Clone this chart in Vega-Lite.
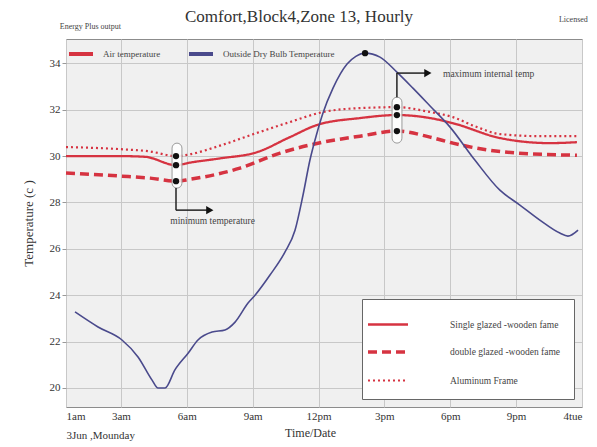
{
  "$schema": "https://vega.github.io/schema/vega-lite/v6.json",
  "width": 516,
  "height": 368,
  "autosize": {"type": "none"},
  "padding": {"left": 66, "top": 39, "right": 15, "bottom": 40},
  "background": "white",
  "config": {
    "view": {"fill": "#f0f0f0", "stroke": "#8c8c8c"},
    "font": "Liberation Serif"
  },
  "title": {
    "text": "Comfort,Block4,Zone 13, Hourly",
    "font": "Liberation Serif",
    "fontSize": 17,
    "fontWeight": "normal",
    "color": "#333333",
    "anchor": "middle",
    "dx": -25,
    "dy": 24,
    "offset": 14
  },
  "datasets": {
    "lines": [
      {"series": "Air temperature", "frame": "Single glazed -wooden fame", "h": 0.5, "t": 30.0},
      {"series": "Air temperature", "frame": "Single glazed -wooden fame", "h": 2.96, "t": 30.0},
      {"series": "Air temperature", "frame": "Single glazed -wooden fame", "h": 4.1, "t": 29.97},
      {"series": "Air temperature", "frame": "Single glazed -wooden fame", "h": 5.51, "t": 29.61},
      {"series": "Air temperature", "frame": "Single glazed -wooden fame", "h": 6.15, "t": 29.72},
      {"series": "Air temperature", "frame": "Single glazed -wooden fame", "h": 7.51, "t": 29.9},
      {"series": "Air temperature", "frame": "Single glazed -wooden fame", "h": 9.2, "t": 30.17},
      {"series": "Air temperature", "frame": "Single glazed -wooden fame", "h": 10.7, "t": 30.82},
      {"series": "Air temperature", "frame": "Single glazed -wooden fame", "h": 11.93, "t": 31.34},
      {"series": "Air temperature", "frame": "Single glazed -wooden fame", "h": 13.89, "t": 31.64},
      {"series": "Air temperature", "frame": "Single glazed -wooden fame", "h": 15.57, "t": 31.77},
      {"series": "Air temperature", "frame": "Single glazed -wooden fame", "h": 17.08, "t": 31.64},
      {"series": "Air temperature", "frame": "Single glazed -wooden fame", "h": 18.12, "t": 31.42},
      {"series": "Air temperature", "frame": "Single glazed -wooden fame", "h": 20.26, "t": 30.78},
      {"series": "Air temperature", "frame": "Single glazed -wooden fame", "h": 22.54, "t": 30.56},
      {"series": "Air temperature", "frame": "Single glazed -wooden fame", "h": 23.77, "t": 30.6},
      {"series": "Air temperature", "frame": "double glazed -wooden fame", "h": 0.5, "t": 29.27},
      {"series": "Air temperature", "frame": "double glazed -wooden fame", "h": 2.96, "t": 29.14},
      {"series": "Air temperature", "frame": "double glazed -wooden fame", "h": 4.33, "t": 29.05},
      {"series": "Air temperature", "frame": "double glazed -wooden fame", "h": 5.51, "t": 28.92},
      {"series": "Air temperature", "frame": "double glazed -wooden fame", "h": 6.15, "t": 29.0},
      {"series": "Air temperature", "frame": "double glazed -wooden fame", "h": 8.42, "t": 29.48},
      {"series": "Air temperature", "frame": "double glazed -wooden fame", "h": 10.25, "t": 30.13},
      {"series": "Air temperature", "frame": "double glazed -wooden fame", "h": 12.2, "t": 30.6},
      {"series": "Air temperature", "frame": "double glazed -wooden fame", "h": 13.89, "t": 30.86},
      {"series": "Air temperature", "frame": "double glazed -wooden fame", "h": 15.57, "t": 31.08},
      {"series": "Air temperature", "frame": "double glazed -wooden fame", "h": 17.08, "t": 30.82},
      {"series": "Air temperature", "frame": "double glazed -wooden fame", "h": 18.12, "t": 30.56},
      {"series": "Air temperature", "frame": "double glazed -wooden fame", "h": 19.22, "t": 30.34},
      {"series": "Air temperature", "frame": "double glazed -wooden fame", "h": 21.04, "t": 30.13},
      {"series": "Air temperature", "frame": "double glazed -wooden fame", "h": 23.77, "t": 30.04},
      {"series": "Air temperature", "frame": "Aluminum Frame", "h": 0.5, "t": 30.39},
      {"series": "Air temperature", "frame": "Aluminum Frame", "h": 2.96, "t": 30.3},
      {"series": "Air temperature", "frame": "Aluminum Frame", "h": 4.33, "t": 30.2},
      {"series": "Air temperature", "frame": "Aluminum Frame", "h": 5.51, "t": 30.0},
      {"series": "Air temperature", "frame": "Aluminum Frame", "h": 6.15, "t": 30.08},
      {"series": "Air temperature", "frame": "Aluminum Frame", "h": 7.51, "t": 30.45},
      {"series": "Air temperature", "frame": "Aluminum Frame", "h": 9.2, "t": 31.0},
      {"series": "Air temperature", "frame": "Aluminum Frame", "h": 10.7, "t": 31.47},
      {"series": "Air temperature", "frame": "Aluminum Frame", "h": 12.2, "t": 31.9},
      {"series": "Air temperature", "frame": "Aluminum Frame", "h": 13.89, "t": 32.07},
      {"series": "Air temperature", "frame": "Aluminum Frame", "h": 15.57, "t": 32.11},
      {"series": "Air temperature", "frame": "Aluminum Frame", "h": 17.08, "t": 31.9},
      {"series": "Air temperature", "frame": "Aluminum Frame", "h": 18.12, "t": 31.68},
      {"series": "Air temperature", "frame": "Aluminum Frame", "h": 19.12, "t": 31.29},
      {"series": "Air temperature", "frame": "Aluminum Frame", "h": 20.26, "t": 30.95},
      {"series": "Air temperature", "frame": "Aluminum Frame", "h": 22.08, "t": 30.86},
      {"series": "Air temperature", "frame": "Aluminum Frame", "h": 23.77, "t": 30.86},
      {"series": "Outside Dry Bulb Temperature", "frame": "Outside", "h": 0.91, "t": 23.28},
      {"series": "Outside Dry Bulb Temperature", "frame": "Outside", "h": 1.96, "t": 22.63},
      {"series": "Outside Dry Bulb Temperature", "frame": "Outside", "h": 3.05, "t": 22.07},
      {"series": "Outside Dry Bulb Temperature", "frame": "Outside", "h": 3.78, "t": 21.34},
      {"series": "Outside Dry Bulb Temperature", "frame": "Outside", "h": 4.42, "t": 20.34},
      {"series": "Outside Dry Bulb Temperature", "frame": "Outside", "h": 4.69, "t": 20.0},
      {"series": "Outside Dry Bulb Temperature", "frame": "Outside", "h": 5.01, "t": 20.0},
      {"series": "Outside Dry Bulb Temperature", "frame": "Outside", "h": 5.46, "t": 20.78},
      {"series": "Outside Dry Bulb Temperature", "frame": "Outside", "h": 6.06, "t": 21.5},
      {"series": "Outside Dry Bulb Temperature", "frame": "Outside", "h": 6.51, "t": 22.07},
      {"series": "Outside Dry Bulb Temperature", "frame": "Outside", "h": 7.15, "t": 22.41},
      {"series": "Outside Dry Bulb Temperature", "frame": "Outside", "h": 7.74, "t": 22.5},
      {"series": "Outside Dry Bulb Temperature", "frame": "Outside", "h": 8.2, "t": 22.84},
      {"series": "Outside Dry Bulb Temperature", "frame": "Outside", "h": 8.79, "t": 23.66},
      {"series": "Outside Dry Bulb Temperature", "frame": "Outside", "h": 9.11, "t": 24.0},
      {"series": "Outside Dry Bulb Temperature", "frame": "Outside", "h": 9.79, "t": 24.87},
      {"series": "Outside Dry Bulb Temperature", "frame": "Outside", "h": 10.47, "t": 25.86},
      {"series": "Outside Dry Bulb Temperature", "frame": "Outside", "h": 10.93, "t": 26.8},
      {"series": "Outside Dry Bulb Temperature", "frame": "Outside", "h": 11.29, "t": 28.3},
      {"series": "Outside Dry Bulb Temperature", "frame": "Outside", "h": 11.61, "t": 29.83},
      {"series": "Outside Dry Bulb Temperature", "frame": "Outside", "h": 11.93, "t": 31.0},
      {"series": "Outside Dry Bulb Temperature", "frame": "Outside", "h": 12.2, "t": 31.85},
      {"series": "Outside Dry Bulb Temperature", "frame": "Outside", "h": 12.66, "t": 32.93},
      {"series": "Outside Dry Bulb Temperature", "frame": "Outside", "h": 13.3, "t": 33.97},
      {"series": "Outside Dry Bulb Temperature", "frame": "Outside", "h": 13.7, "t": 34.3},
      {"series": "Outside Dry Bulb Temperature", "frame": "Outside", "h": 14.12, "t": 34.44},
      {"series": "Outside Dry Bulb Temperature", "frame": "Outside", "h": 14.8, "t": 34.27},
      {"series": "Outside Dry Bulb Temperature", "frame": "Outside", "h": 15.57, "t": 33.62},
      {"series": "Outside Dry Bulb Temperature", "frame": "Outside", "h": 16.3, "t": 32.93},
      {"series": "Outside Dry Bulb Temperature", "frame": "Outside", "h": 17.08, "t": 32.16},
      {"series": "Outside Dry Bulb Temperature", "frame": "Outside", "h": 17.99, "t": 31.25},
      {"series": "Outside Dry Bulb Temperature", "frame": "Outside", "h": 19.12, "t": 29.83},
      {"series": "Outside Dry Bulb Temperature", "frame": "Outside", "h": 20.26, "t": 28.53},
      {"series": "Outside Dry Bulb Temperature", "frame": "Outside", "h": 21.17, "t": 27.89},
      {"series": "Outside Dry Bulb Temperature", "frame": "Outside", "h": 22.08, "t": 27.24},
      {"series": "Outside Dry Bulb Temperature", "frame": "Outside", "h": 22.99, "t": 26.68},
      {"series": "Outside Dry Bulb Temperature", "frame": "Outside", "h": 23.36, "t": 26.55},
      {"series": "Outside Dry Bulb Temperature", "frame": "Outside", "h": 23.82, "t": 26.81}
    ],
    "capsules": [
      {"h": 5.33, "h2": 5.78, "t": 28.62, "t2": 30.56},
      {"h": 15.35, "h2": 15.8, "t": 30.56, "t2": 32.54}
    ],
    "dots": [
      {"h": 5.51, "t": 30.0},
      {"h": 5.51, "t": 29.61},
      {"h": 5.51, "t": 28.92},
      {"h": 15.57, "t": 32.11},
      {"h": 15.57, "t": 31.77},
      {"h": 15.57, "t": 31.08},
      {"h": 14.12, "t": 34.44}
    ],
    "segments": [
      {"h": 5.51, "h2": 5.51, "t": 28.62, "t2": 27.67},
      {"h": 5.51, "h2": 6.95, "t": 27.67, "t2": 27.67},
      {"h": 15.57, "h2": 15.57, "t": 32.54, "t2": 33.58},
      {"h": 15.57, "h2": 16.85, "t": 33.58, "t2": 33.58}
    ],
    "heads": [
      {"h": 7.05, "t": 27.67},
      {"h": 16.98, "t": 33.58}
    ],
    "notes": [
      {"h": 5.25, "t": 27.2, "label": "minimum temperature"},
      {"h": 17.67, "t": 33.55, "label": "maximum internal temp"},
      {"h": 0.22, "t": 35.55, "label": "Energy Plus output"},
      {"h": 22.95, "t": 35.85, "label": "Licensed"}
    ]
  },
  "encoding": {
    "x": {
      "field": "h",
      "type": "quantitative",
      "scale": {"domain": [0.5, 24], "nice": false, "zero": false},
      "axis": {
        "title": "Time/Date",
        "titleFont": "Liberation Serif",
        "titleFontSize": 12,
        "titleFontWeight": "normal",
        "titleColor": "#333333",
        "titleX": 244,
        "titleY": 20,
        "titleAlign": "center",
        "titleBaseline": "top",
        "values": [0.5, 3, 6, 9, 12, 15, 18, 21, 24],
        "labelExpr": "datum.value == 0.5 ? ['1am', '3Jun ,Mounday'] : datum.value == 3 ? '3am' : datum.value == 6 ? '6am' : datum.value == 9 ? '9am' : datum.value == 12 ? '12pm' : datum.value == 15 ? '3pm' : datum.value == 18 ? '6pm' : datum.value == 21 ? '9pm' : '4tue'",
        "labelFlush": true,
        "labelOverlap": false,
        "labelFont": "Liberation Serif",
        "labelFontSize": 11,
        "labelColor": "#333333",
        "labelLineHeight": 19,
        "labelPadding": 3,
        "ticks": false,
        "domain": false,
        "grid": true,
        "gridColor": "#c8c8c8",
        "gridWidth": 1
      }
    },
    "y": {
      "field": "t",
      "type": "quantitative",
      "scale": {"domain": [19.18, 35.05], "nice": false, "zero": false},
      "axis": {
        "title": "Temperature (c )",
        "titleFont": "Liberation Serif",
        "titleFontSize": 13,
        "titleFontWeight": "normal",
        "titleColor": "#333333",
        "titlePadding": 14,
        "values": [20, 22, 24, 26, 28, 30, 32, 34],
        "labelFont": "Liberation Serif",
        "labelFontSize": 11,
        "labelColor": "#333333",
        "tickSize": 4,
        "tickColor": "#999999",
        "domain": false,
        "grid": true,
        "gridColor": "#c8c8c8",
        "gridWidth": 1
      }
    }
  },
  "layer": [
    {
      "data": {"name": "lines"},
      "transform": [{"filter": "datum.series == 'Air temperature'"}],
      "mark": {"type": "line", "interpolate": "monotone"},
      "encoding": {
        "detail": {"field": "frame"},
        "color": {
          "field": "series",
          "type": "nominal",
          "scale": {"domain": ["Air temperature", "Outside Dry Bulb Temperature"], "range": ["#d63341", "#4a4a8c"]},
          "legend": {
            "title": null,
            "orient": "top-left",
            "direction": "horizontal",
            "offset": 3,
            "padding": 4,
            "symbolType": "M-2,0H2",
            "symbolSize": 144,
            "symbolStrokeWidth": 4,
            "labelFont": "Liberation Serif",
            "labelFontSize": 9,
            "labelColor": "#444444",
            "labelOffset": 14,
            "columnPadding": 20
          }
        },
        "strokeDash": {
          "field": "frame",
          "type": "nominal",
          "scale": {"domain": ["Single glazed -wooden fame", "double glazed -wooden fame", "Aluminum Frame"], "range": [[1, 0], [9, 5], [2, 3]]},
          "legend": {
            "title": null,
            "orient": "bottom-right",
            "offset": 8,
            "padding": 14,
            "fillColor": "white",
            "strokeColor": "#666666",
            "symbolType": "M-2,0H2",
            "symbolSize": 400,
            "symbolStrokeColor": "#d63341",
            "symbolStrokeWidth": 3,
            "labelFont": "Liberation Serif",
            "labelFontSize": 9.5,
            "labelColor": "#444444",
            "labelOffset": 50,
            "labelLimit": 220,
            "rowPadding": 10
          }
        },
        "strokeWidth": {
          "field": "frame",
          "type": "nominal",
          "scale": {"type": "ordinal", "domain": ["Single glazed -wooden fame", "double glazed -wooden fame", "Aluminum Frame"], "range": [2.3, 3.5, 2.2]},
          "legend": null
        }
      }
    },
    {
      "data": {"name": "lines"},
      "transform": [{"filter": "datum.series == 'Outside Dry Bulb Temperature'"}],
      "mark": {"type": "line", "interpolate": "monotone", "strokeWidth": 1.6},
      "encoding": {
        "color": {"field": "series", "type": "nominal"}
      }
    },
    {
      "data": {"name": "capsules"},
      "mark": {"type": "rect", "fill": "white", "fillOpacity": 0.85, "stroke": "#9a9a9a", "strokeWidth": 1, "cornerRadius": 5},
      "encoding": {
        "x": {"field": "h", "type": "quantitative"},
        "x2": {"field": "h2"},
        "y": {"field": "t", "type": "quantitative"},
        "y2": {"field": "t2"}
      }
    },
    {
      "data": {"name": "dots"},
      "mark": {"type": "point", "filled": true, "color": "#111111", "size": 40, "opacity": 1},
      "encoding": {}
    },
    {
      "data": {"name": "segments"},
      "mark": {"type": "rule", "color": "#222222", "strokeWidth": 1.5},
      "encoding": {
        "x2": {"field": "h2"},
        "y2": {"field": "t2"}
      }
    },
    {
      "data": {"name": "heads"},
      "mark": {"type": "point", "shape": "triangle-right", "filled": true, "color": "#111111", "size": 70, "opacity": 1},
      "encoding": {}
    },
    {
      "data": {"name": "notes"},
      "mark": {"type": "text", "align": "left", "baseline": "middle", "font": "Liberation Serif", "fontSize": 9.5, "color": "#444444"},
      "encoding": {
        "text": {"field": "label"},
        "size": {"condition": {"test": "datum.t > 35", "value": 8}, "value": 9.5}
      }
    }
  ]
}
